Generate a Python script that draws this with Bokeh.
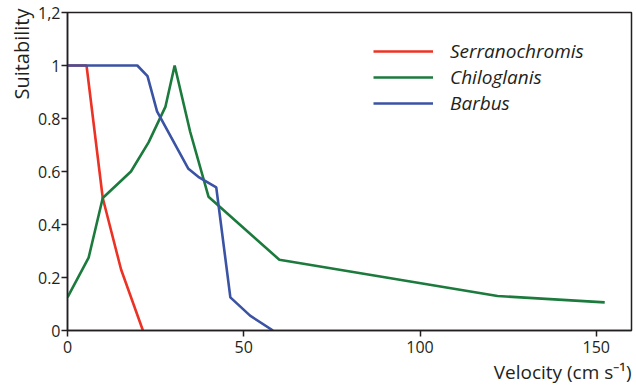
from bokeh.plotting import figure
from bokeh.models import Range1d, FixedTicker, Legend, LegendItem, Title
from bokeh.embed import file_html
from bokeh.resources import INLINE

species = ["Serranochromis", "Chiloglanis", "Barbus"]
colors = ["#ec3224", "#1b7a3c", "#3a53a4"]

serr_x = [0, 5.4, 10, 15.2, 21.4]
serr_y = [1.0, 1.0, 0.5, 0.23, 0.0]
chil_x = [0, 6, 10, 18, 23, 27.8, 30.4, 34.8, 40, 60.1, 122, 152.4]
chil_y = [0.125, 0.275, 0.5, 0.6, 0.71, 0.845, 1.0, 0.75, 0.505, 0.267, 0.13, 0.106]
barb_x = [0, 19.8, 22.7, 25.4, 34.3, 37.1, 42.2, 46.2, 51.8, 58.3]
barb_y = [1.0, 1.0, 0.96, 0.827, 0.61, 0.58, 0.54, 0.125, 0.056, 0.0]

x_ticks = [0, 50, 100, 150]
y_ticks = [0, 0.2, 0.4, 0.6, 0.8, 1.0, 1.2]
y_tick_labels = ["0", "0.2", "0.4", "0.6", "0.8", "1", "1,2"]
x_label = "Velocity (cm s\u207b\u00b9)"
y_label = "Suitability"

FONT = "Open Sans"
INK = "#231f20"

p = figure(width=636, height=387, output_backend="svg", toolbar_location=None,
           x_range=Range1d(0, 160), y_range=Range1d(0, 1.2),
           min_border_left=67, min_border_right=5, min_border_top=12, min_border_bottom=57)
p.grid.visible = False
p.outline_line_color = INK
p.outline_line_width = 1.5
p.background_fill_color = "white"
p.border_fill_color = "white"

for ax in (p.xaxis[0], p.yaxis[0]):
    ax.axis_line_color = INK
    ax.axis_line_width = 1.5
    ax.major_tick_line_color = INK
    ax.major_tick_line_width = 1.5
    ax.minor_tick_line_color = None
    ax.major_tick_in = 0
    ax.major_tick_out = 6
    ax.major_label_text_font = FONT
    ax.major_label_text_font_size = "16px"
    ax.major_label_text_color = INK

p.xaxis.ticker = FixedTicker(ticks=x_ticks)
p.xaxis.major_label_standoff = 4
p.yaxis.ticker = FixedTicker(ticks=y_ticks)
p.yaxis.major_label_overrides = {t: l for t, l in zip(y_ticks, y_tick_labels)}
p.yaxis.major_label_standoff = 1

r1 = p.line(serr_x, serr_y, line_color=colors[0], line_width=2.6)
r2 = p.line(chil_x, chil_y, line_color=colors[1], line_width=2.6)
r3 = p.line(barb_x, barb_y, line_color=colors[2], line_width=2.6)

legend = Legend(items=[LegendItem(label=s, renderers=[r]) for s, r in zip(species, [r1, r2, r3])],
                location=(306, 214), orientation="vertical",
                border_line_alpha=0, background_fill_alpha=0,
                padding=0, margin=0, spacing=-2,
                glyph_width=60, glyph_height=24, label_height=24, label_standoff=17,
                label_text_font=FONT, label_text_font_style="italic",
                label_text_font_size="19px", label_text_color=INK)
p.add_layout(legend)

yt = Title(text=y_label, align="right", text_font=FONT, text_font_size="20px",
           text_font_style="normal", text_color=INK, standoff=0, offset=-4)
p.add_layout(yt, "left")
xt = Title(text=x_label, align="right", text_font=FONT, text_font_size="19px",
           text_font_style="normal", text_color=INK, standoff=2)
p.add_layout(xt, "below")

open("out.html", "w").write(file_html(p, INLINE))
